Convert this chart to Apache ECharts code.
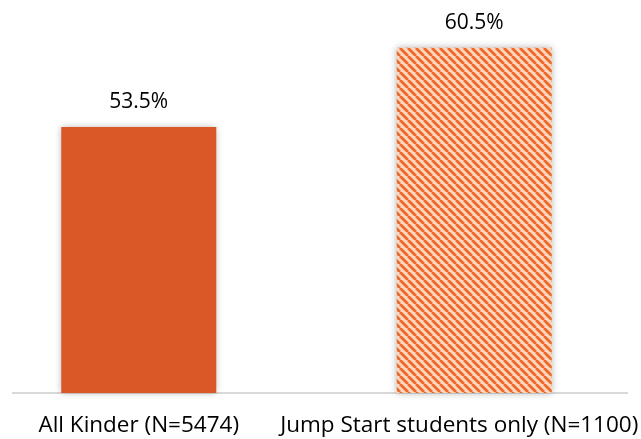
<!DOCTYPE html>
<html>
<head>
<meta charset="utf-8">
<script src="https://cdn.jsdelivr.net/npm/echarts@6/dist/echarts.min.js"></script>
<style>
  html, body { margin: 0; padding: 0; background: #fff; }
  #chart { width: 641px; height: 439px; }
</style>
</head>
<body>
<div id="chart"></div>
<script>
// data
var categories = ['All Kinder (N=5474)', 'Jump Start students only (N=1100)'];
var values = [53.5, 60.5];

// hatched fill for the second bar
function makeHatch() {
    var c = document.createElement('canvas');
    c.width = 8;
    c.height = 8;
    var ctx = c.getContext('2d');
    ctx.fillStyle = '#fcd6c0';
    ctx.fillRect(0, 0, 8, 8);
    ctx.strokeStyle = '#ec6a26';
    ctx.lineWidth = 2.8;
    [-8, 0, 8].forEach(function (k) {
        ctx.beginPath();
        ctx.moveTo(k, 0);
        ctx.lineTo(k + 8, 8);
        ctx.stroke();
    });
    return c;
}

var barStyles = [
    { color: '#da5828' },
    { color: { image: makeHatch(), repeat: 'repeat' } }
];

var seriesData = [];
for (var i = 0; i < values.length; i++) {
    seriesData.push({
        value: values[i],
        itemStyle: barStyles[i]
    });
}

var myChart = echarts.init(document.getElementById('chart'));
var option = {
    animation: false,
    grid: {
        left: -29,
        right: -1,
        top: 8,
        bottom: 46,
        containLabel: false,
        outerBoundsMode: 'none'
    },
    xAxis: {
        type: 'category',
        data: categories,
        axisLine: { show: false },
        axisTick: { show: false },
        axisLabel: {
            interval: 0,
            margin: 21,
            formatter: function (v, idx) {
                return idx === 1 ? '{b|' + v + '}' : '{a|' + v + '}';
            },
            rich: {
                a: { fontFamily: 'Open Sans', fontSize: 22.5, color: '#000' },
                b: { fontFamily: 'Open Sans', fontSize: 22.5, color: '#000', padding: [0, 30, 0, 0] }
            }
        }
    },
    yAxis: {
        type: 'value',
        min: 30,
        max: 64,
        show: false,
        splitLine: { show: false }
    },
    graphic: [{
        type: 'line',
        shape: { x1: 12, y1: 393, x2: 628, y2: 393 },
        style: { stroke: '#d9d9d9', lineWidth: 2 },
        z: 1
    }],
    series: [{
        type: 'bar',
        data: seriesData,
        barWidth: 155,
        clip: true,
        z: 3,
        itemStyle: {
            shadowBlur: 7,
            shadowColor: 'rgba(0,0,0,0.3)'
        },
        label: {
            show: true,
            position: 'top',
            distance: 14,
            fontFamily: 'Open Sans',
            fontSize: 21,
            color: '#000',
            formatter: function (p) {
                return p.value.toFixed(1) + '%';
            }
        }
    }]
};
myChart.setOption(option);
</script>
</body>
</html>
